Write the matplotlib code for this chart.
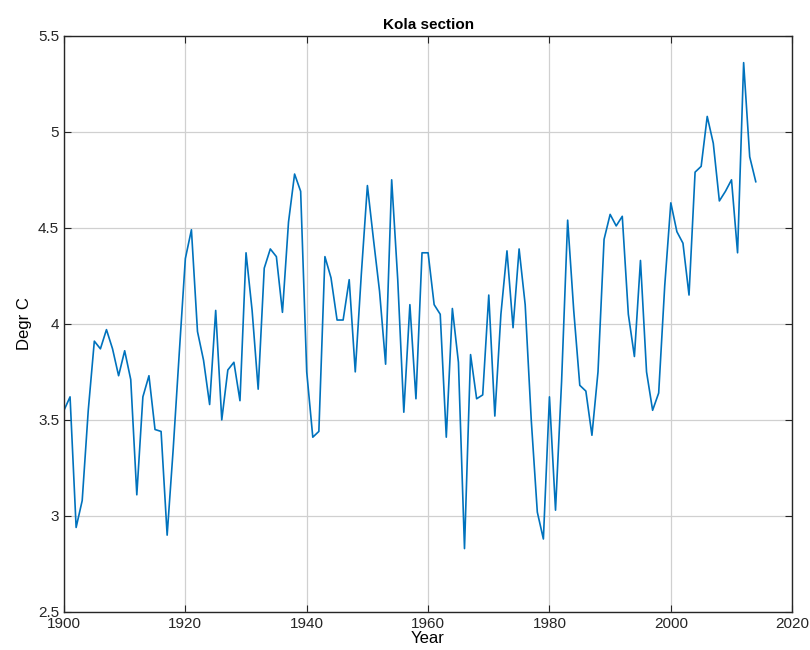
import matplotlib
matplotlib.use('Agg')
import matplotlib.pyplot as plt

plt.rcParams['font.family'] = ['Liberation Sans', 'DejaVu Sans']

years = list(range(1900, 2015))
temp = [3.55, 3.62, 2.94, 3.08, 3.55, 3.91, 3.87, 3.97, 3.87, 3.73,
        3.86, 3.71, 3.11, 3.62, 3.73, 3.45, 3.44, 2.90, 3.35, 3.85,
        4.34, 4.49, 3.96, 3.81, 3.58, 4.07, 3.50, 3.76, 3.80, 3.60,
        4.37, 4.07, 3.66, 4.29, 4.39, 4.35, 4.06, 4.53, 4.78, 4.69,
        3.75, 3.41, 3.44, 4.35, 4.24, 4.02, 4.02, 4.23, 3.75, 4.26,
        4.72, 4.44, 4.17, 3.79, 4.75, 4.23, 3.54, 4.10, 3.61, 4.37,
        4.37, 4.10, 4.05, 3.41, 4.08, 3.80, 2.83, 3.84, 3.61, 3.63,
        4.15, 3.52, 4.05, 4.38, 3.98, 4.39, 4.10, 3.50, 3.02, 2.88,
        3.62, 3.03, 3.70, 4.54, 4.07, 3.68, 3.65, 3.42, 3.75, 4.44,
        4.57, 4.51, 4.56, 4.05, 3.83, 4.33, 3.75, 3.55, 3.64, 4.20,
        4.63, 4.48, 4.42, 4.15, 4.79, 4.82, 5.08, 4.94, 4.64, 4.69,
        4.75, 4.37, 5.36, 4.87, 4.74]

fig = plt.figure(figsize=(8.1, 6.5), dpi=100)
ax = fig.add_axes([0.079, 0.0585, 0.899, 0.8865])
ax.plot(years, temp, color='#0072BD', linewidth=1.2)

ax.set_xlim(1900, 2020)
ax.set_ylim(2.5, 5.5)
ax.set_xticks(range(1900, 2021, 20))
ax.set_yticks([2.5, 3, 3.5, 4, 4.5, 5, 5.5])
ax.set_yticklabels(['2.5', '3', '3.5', '4', '4.5', '5', '5.5'])
ax.grid(True, color='#d0d0d0', linewidth=0.9)
ax.set_axisbelow(True)
ax.tick_params(direction='in', top=True, right=True, labelsize=11, length=5, colors='#262626')
for s in ax.spines.values():
    s.set_color('#262626')
    s.set_linewidth(1.0)

ax.set_title('Kola section', fontsize=11, fontweight='bold', pad=5)
ax.set_xlabel('Year', fontsize=12, labelpad=0)
ax.set_ylabel('Degr C', fontsize=12)

fig.savefig('out.png', dpi=100)
